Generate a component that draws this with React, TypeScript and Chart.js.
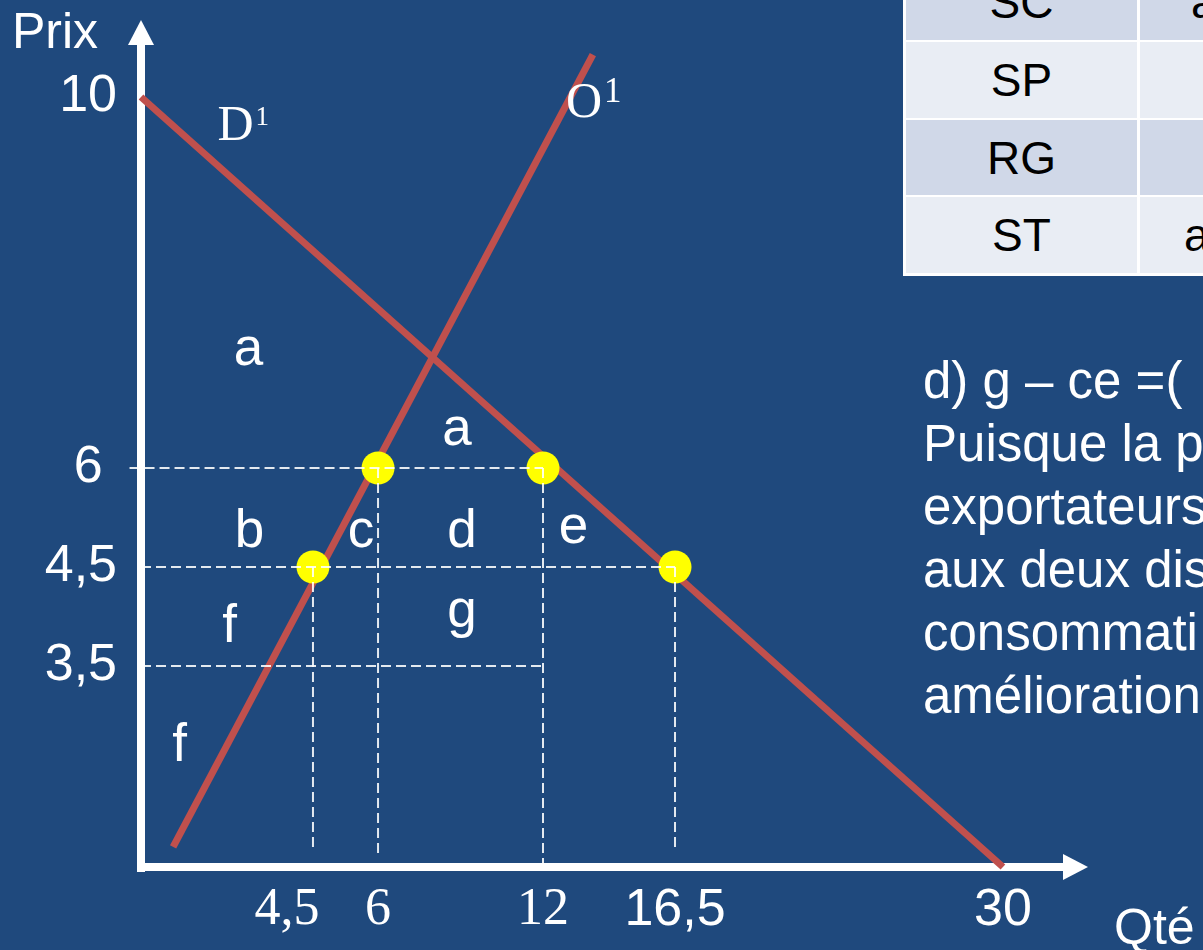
import React, { useEffect, useRef } from 'react';
import { Chart, LinearScale, registerables } from 'chart.js';

// ---------- data ----------
const xTickValues = [4.5, 6, 12, 16.5, 30];
const xTickLabels = ['4,5', '6', '12', '16,5', '30'];
const yTickValues = [3.5, 4.5, 6, 10];
const yTickLabels = ['3,5', '4,5', '6', '10'];

const demandD1 = [{ x: 0, y: 10 }, { x: 30, y: 0 }];
const supplyO1 = [{ x: 0.84, y: 0.35 }, { x: 13.7, y: 10.55 }];
const pointsAtPrice6 = [{ x: 6, y: 6 }, { x: 12, y: 6 }];
const pointsAtPrice45 = [{ x: 4.5, y: 4.5 }, { x: 16.5, y: 4.5 }];

const guideSegments = [
  [{ x: -0.3, y: 6 }, { x: 12, y: 6 }],
  [{ x: 0, y: 4.5 }, { x: 16.5, y: 4.5 }],
  [{ x: 0, y: 3.5 }, { x: 12, y: 3.5 }],
  [{ x: 4.5, y: 4.5 }, { x: 4.5, y: 0.35 }],
  [{ x: 6, y: 6 }, { x: 6, y: 0.24 }],
  [{ x: 12, y: 6 }, { x: 12, y: 0 }],
  [{ x: 16.5, y: 4.5 }, { x: 16.5, y: 0.35 }],
];

const areaLabels = ['a', 'a', 'b', 'c', 'd', 'e', 'f', 'g', 'f'];
const areaLabelX = [2.81, 8.87, 2.84, 5.61, 9.05, 13.04, 2.32, 9.05, 1.01];
const areaLabelY = [7.11, 6.25, 4.8, 4.8, 4.8, 4.86, 3.74, 3.89, 1.85];

const curveNames = ['D', 'O'];
const curveSup = ['1', '1'];
const curveNameX = [2.0, 12.78];
const curveNameY = [9.54, 9.78];

const tableRowLabels = ['SC', 'SP', 'RG', 'ST'];
const tableSecondCol = ['a', '', '', 'a'];

const textLines = [
  'd) g \u2013 ce =(',
  'Puisque la p',
  'exportateurs',
  'aux deux dis',
  'consommati',
  'amélioration',
];

// ---------- styles ----------
const SANS = "'Liberation Sans', Arial, Helvetica, sans-serif";
const SERIF = "'Liberation Serif', 'Times New Roman', Times, serif";
const BG = '#1F497D';
const RED = '#C0504D';
const YELLOW = '#FFFF00';
const GUIDE = 'rgba(255,255,255,0.88)';

// schematic (not-to-scale) axis layout: value knots -> fraction of axis length
const AXIS_KNOTS: Record<string, { values: number[]; fractions: number[] }> = {
  x: { values: [0, 4.5, 6, 12, 16.5, 30, 33], fractions: [0, 0.1816, 0.2503, 0.4245, 0.5639, 0.9102, 1] },
  y: { values: [0, 3.5, 4.5, 6, 10, 11], fractions: [0, 0.2373, 0.3542, 0.4711, 0.9091, 1] },
};

function interp(v: number, from: number[], to: number[]) {
  const n = from.length;
  let i = 1;
  while (i < n - 1 && v > from[i]) i++;
  const a = from[i - 1];
  const b = from[i];
  return to[i - 1] + ((v - a) / (b - a)) * (to[i] - to[i - 1]);
}

class PiecewiseScale extends LinearScale {
  static id = 'piecewise';
  static defaults = {};
  getPixelForValue(value: any) {
    if (value === null || value === undefined || Number.isNaN(+value)) return NaN;
    const k = AXIS_KNOTS[(this as any).axis];
    return this.getPixelForDecimal(interp(+value, k.values, k.fractions));
  }
  getValueForPixel(pixel: number) {
    const k = AXIS_KNOTS[(this as any).axis];
    return interp(this.getDecimalForPixel(pixel), k.fractions, k.values);
  }
}

Chart.register(...registerables, PiecewiseScale as any);

const schematicPlugin = {
  id: 'schematic',
  beforeDatasetsDraw(chart: any) {
    const { ctx, chartArea } = chart;
    const { left, right, top, bottom } = chartArea;
    ctx.save();
    ctx.fillStyle = '#FFFFFF';
    // y axis + arrow
    ctx.fillRect(left - 4, top + 25, 8, bottom + 5 - (top + 25));
    ctx.beginPath();
    ctx.moveTo(left, top);
    ctx.lineTo(left - 13, top + 25);
    ctx.lineTo(left + 13, top + 25);
    ctx.closePath();
    ctx.fill();
    // x axis + arrow
    ctx.fillRect(left - 4, bottom - 4, right - 25 - (left - 4), 8);
    ctx.beginPath();
    ctx.moveTo(right, bottom);
    ctx.lineTo(right - 25, bottom - 13);
    ctx.lineTo(right - 25, bottom + 13);
    ctx.closePath();
    ctx.fill();
    // axis titles
    ctx.font = `50px ${SANS}`;
    ctx.textAlign = 'left';
    ctx.textBaseline = 'alphabetic';
    ctx.fillText('Prix', left - 129, top + 28);
    ctx.fillText('Qté', right + 26, bottom + 77);
    ctx.restore();
  },
  afterDatasetsDraw(chart: any) {
    const { ctx } = chart;
    const xs = chart.scales.x;
    const ys = chart.scales.y;
    ctx.save();
    ctx.fillStyle = '#FFFFFF';
    ctx.textBaseline = 'alphabetic';
    ctx.textAlign = 'center';
    ctx.font = `53px ${SANS}`;
    areaLabels.forEach((t, i) => {
      ctx.fillText(t, xs.getPixelForValue(areaLabelX[i]), ys.getPixelForValue(areaLabelY[i]));
    });
    ctx.textAlign = 'left';
    curveNames.forEach((t, i) => {
      const px = xs.getPixelForValue(curveNameX[i]);
      const py = ys.getPixelForValue(curveNameY[i]);
      ctx.font = `50px ${SERIF}`;
      ctx.fillText(t, px, py);
      const w = ctx.measureText(t).width;
      ctx.font = `${i === 0 ? 27 : 35}px ${SERIF}`;
      ctx.fillText(curveSup[i], px + w + 2, py - 15);
    });
    ctx.restore();
  },
};

export default function App() {
  const ref = useRef<HTMLCanvasElement>(null);

  useEffect(() => {
    const lineDs = (label: string, data: any[], color: string, width: number, order: number, dash?: number[]) => ({
      label,
      data,
      showLine: true,
      borderColor: color,
      borderWidth: width,
      borderDash: dash || [],
      borderCapStyle: 'butt',
      pointRadius: 0,
      pointHoverRadius: 0,
      fill: false,
      tension: 0,
      clip: false,
      order,
    });

    const dotDs = (label: string, data: any[]) => ({
      label,
      data,
      showLine: false,
      pointRadius: 16.5,
      pointHoverRadius: 16.5,
      pointBackgroundColor: YELLOW,
      pointBorderWidth: 0,
      clip: false,
      order: 2,
    });

    const datasets: any[] = [
      lineDs('D1', demandD1, RED, 7, 3),
      lineDs('O1', supplyO1, RED, 7, 3),
      dotDs('prix 6', pointsAtPrice6),
      dotDs('prix 4,5', pointsAtPrice45),
      ...guideSegments.map((seg, i) => lineDs('guide' + i, seg, GUIDE, 2, 1, [10, 5])),
    ];

    const chart = new Chart(ref.current as HTMLCanvasElement, {
      type: 'scatter',
      data: { datasets },
      plugins: [schematicPlugin],
      options: {
        responsive: false,
        animation: false,
        events: [],
        layout: { padding: { top: 20, right: 115, left: 0, bottom: 0 } },
        plugins: { legend: { display: false }, tooltip: { enabled: false } },
        scales: {
          x: {
            type: 'piecewise',
            min: 0,
            max: 33,
            grid: { display: false, drawTicks: false },
            border: { display: false },
            afterFit: (s: any) => {
              s.height = 83;
              s.paddingLeft = 0;
              s.paddingRight = 0;
            },
            afterBuildTicks: (s: any) => {
              s.ticks = xTickValues.map((v) => ({ value: v }));
            },
            ticks: {
              autoSkip: false,
              maxRotation: 0,
              minRotation: 0,
              padding: 12,
              color: '#FFFFFF',
              font: (c: any) => ({ family: c.index < 3 ? SERIF : SANS, size: 52 }),
              callback: (_v: any, i: number) => (i === 0 ? xTickLabels[i] + '    ' : xTickLabels[i]),
            },
          },
          y: {
            type: 'piecewise',
            min: 0,
            max: 11,
            grid: { display: false, drawTicks: false },
            border: { display: false },
            afterFit: (s: any) => {
              s.width = 141;
              s.paddingTop = 0;
              s.paddingBottom = 0;
            },
            afterBuildTicks: (s: any) => {
              s.ticks = yTickValues.map((v) => ({ value: v }));
            },
            ticks: {
              autoSkip: false,
              padding: 24,
              color: '#FFFFFF',
              font: { family: SANS, size: 52 },
              callback: (_v: any, i: number) => (yTickLabels[i] === '6' ? '6 ' : yTickLabels[i]),
            },
          },
        },
      } as any,
    });
    return () => chart.destroy();
  }, []);

  const rowTops = [-36, 42, 120, 197];
  const rowHeights = [76, 76, 75, 76];
  const rowColors = ['#D0D8E8', '#E9EDF4', '#D0D8E8', '#E9EDF4'];
  const col2Pad = [51, 0, 0, 44];

  return (
    <div
      style={{
        position: 'fixed',
        left: 0,
        top: 0,
        width: 1203,
        height: 950,
        overflow: 'hidden',
        background: BG,
      }}
    >
      <canvas ref={ref} width={1203} height={950} style={{ position: 'absolute', left: 0, top: 0 }} />
      <div style={{ position: 'absolute', left: 903, top: -40, width: 320, height: 316, background: '#FFFFFF' }} />
      {tableRowLabels.map((lab, i) => (
        <React.Fragment key={lab}>
          <div
            style={{
              position: 'absolute',
              left: 906,
              top: rowTops[i],
              width: 231,
              height: rowHeights[i],
              background: rowColors[i],
              display: 'flex',
              alignItems: 'center',
              justifyContent: 'center',
              fontFamily: SANS,
              fontSize: 46,
              color: '#000',
            }}
          >
            {lab}
          </div>
          <div
            style={{
              position: 'absolute',
              left: 1140,
              top: rowTops[i],
              width: 200,
              height: rowHeights[i],
              background: rowColors[i],
              display: 'flex',
              alignItems: 'center',
              boxSizing: 'border-box',
              paddingLeft: col2Pad[i],
              fontFamily: SANS,
              fontSize: 46,
              color: '#000',
              whiteSpace: 'pre',
            }}
          >
            {tableSecondCol[i]}
          </div>
        </React.Fragment>
      ))}
      <div
        style={{
          position: 'absolute',
          left: 923,
          top: 349,
          fontFamily: SANS,
          fontSize: 51,
          lineHeight: '63px',
          color: '#FFFFFF',
          whiteSpace: 'pre',
        }}
      >
        {textLines.map((t, i) => (
          <div key={i}>{t}</div>
        ))}
      </div>
    </div>
  );
}
